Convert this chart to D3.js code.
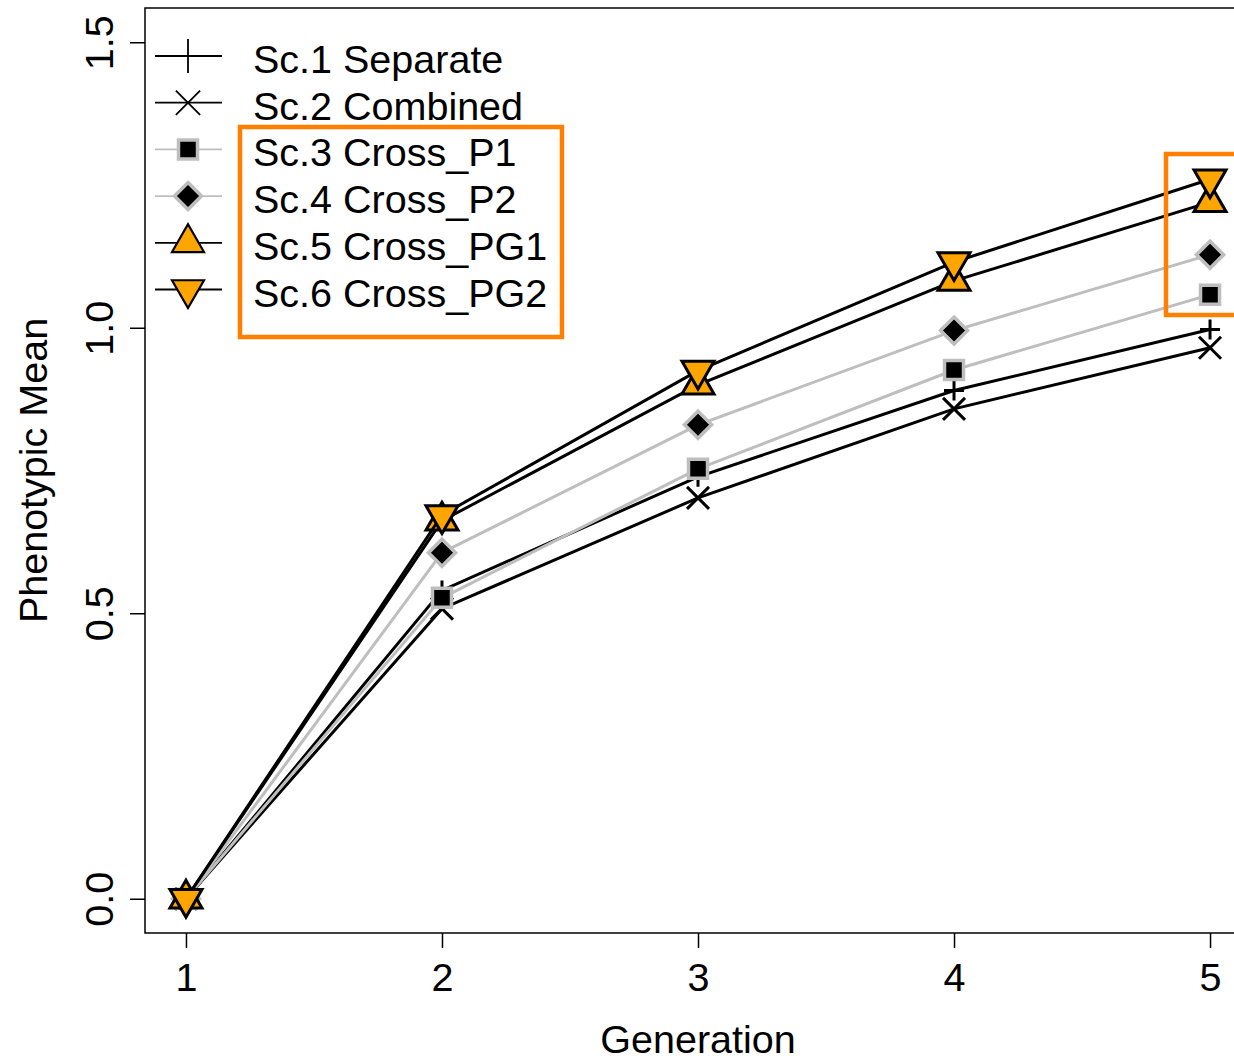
<!DOCTYPE html>
<html>
<head>
<meta charset="utf-8">
<script src="https://cdn.jsdelivr.net/npm/d3@7"></script>
<style>
  body { margin: 0; background: #fff; }
  svg { display: block; font-family: "Liberation Sans", Arial, sans-serif; }
</style>
</head>
<body>
<div id="chart"></div>
<script>
// données
const generations = [1, 2, 3, 4, 5];
const yTicks = [0, 0.5, 1.0, 1.5];
const sc1 = [0, 0.540, 0.739, 0.890, 0.997];
const sc2 = [0, 0.508, 0.702, 0.858, 0.965];
const sc3 = [0, 0.527, 0.753, 0.926, 1.058];
const sc4 = [0, 0.606, 0.830, 0.995, 1.128];
const sc5 = [0, 0.662, 0.900, 1.082, 1.220];
const sc6 = [0, 0.672, 0.925, 1.115, 1.260];
const labels = ["Sc.1 Separate", "Sc.2 Combined", "Sc.3 Cross_P1", "Sc.4 Cross_P2", "Sc.5 Cross_PG1", "Sc.6 Cross_PG2"];

const orange = "#FF7F00";
const fontSize = "39.5px";
const series = [
    { name: labels[0], values: sc1, line: "#000", shape: "plus" },
    { name: labels[1], values: sc2, line: "#000", shape: "cross" },
    { name: labels[2], values: sc3, line: "#BEBEBE", shape: "square" },
    { name: labels[3], values: sc4, line: "#BEBEBE", shape: "diamond" },
    { name: labels[4], values: sc5, line: "#000", shape: "up" },
    { name: labels[5], values: sc6, line: "#000", shape: "down" }
];

const width = 1234, height = 1062;
const plot = { left: 145, right: 1251, top: 8, bottom: 933 };

const svg = d3.select("#chart").append("svg")
    .attr("width", width)
    .attr("height", height);

const xScale = d3.scaleLinear().domain([0.84, 5.16]).range([plot.left, plot.right]);
const yScale = d3.scaleLinear().domain([-0.06, 1.56]).range([plot.bottom, plot.top]);

// formes des symboles (centrées sur 0,0)
function shapePath(shape, k) {
    if (shape === "plus") {
        const r = 10 * k;
        return `M${-r},0H${r}M0,${-r}V${r}`;
    }
    if (shape === "cross") {
        const r = 11 * k;
        return `M${-r},${-r}L${r},${r}M${-r},${r}L${r},${-r}`;
    }
    if (shape === "square") {
        const r = 9.5 * k;
        return `M${-r},${-r}H${r}V${r}H${-r}Z`;
    }
    if (shape === "diamond") {
        const r = 13.5 * k;
        return `M0,${-r}L${r},0L0,${r}L${-r},0Z`;
    }
    const xc = 16 * k, r = 18.5 * k, yc = 9.25 * k;
    if (shape === "up") return `M0,${-r}L${xc},${yc}L${-xc},${yc}Z`;
    return `M0,${r}L${xc},${-yc}L${-xc},${-yc}Z`;
}

function styleMarker(sel, s, legend) {
    if (s.shape === "plus" || s.shape === "cross") {
        sel.attr("fill", "none").attr("stroke", "#000").attr("stroke-width", legend ? 1.8 : 3);
    } else if (s.shape === "square" || s.shape === "diamond") {
        sel.attr("fill", "#000").attr("stroke", "#BEBEBE").attr("stroke-width", 3.5);
    } else {
        sel.attr("fill", "#FFA500").attr("stroke", "#000").attr("stroke-width", legend ? 2.2 : 3)
            .attr("stroke-linejoin", "miter");
    }
}

// cadre
svg.append("rect")
    .attr("x", plot.left)
    .attr("y", plot.top)
    .attr("width", plot.right - plot.left)
    .attr("height", plot.bottom - plot.top)
    .attr("fill", "none")
    .attr("stroke", "#000")
    .attr("stroke-width", 1.5);

// axe des x
const xAxis = svg.append("g")
    .attr("transform", `translate(0,${plot.bottom})`)
    .call(d3.axisBottom(xScale).tickValues(generations).tickSize(15).tickPadding(15).tickFormat(d3.format("d")));
xAxis.select(".domain").remove();
xAxis.selectAll("line").attr("stroke-width", 1.5);
xAxis.selectAll("text")
    .attr("fill", "#000")
    .style("font-size", fontSize)
    .style("font-family", "'Liberation Sans', Arial, sans-serif");

// axe des y
const yAxis = svg.append("g")
    .attr("transform", `translate(${plot.left},0)`)
    .call(d3.axisLeft(yScale).tickValues(yTicks).tickSize(15).tickFormat(d3.format(".1f")));
yAxis.select(".domain").remove();
yAxis.selectAll("line").attr("stroke-width", 1.5);
yAxis.selectAll("text")
    .attr("fill", "#000")
    .attr("x", null).attr("dy", null)
    .attr("text-anchor", "middle")
    .attr("transform", "translate(-32,0) rotate(-90)")
    .style("font-size", fontSize)
    .style("font-family", "'Liberation Sans', Arial, sans-serif");

// titres des axes
svg.append("text")
    .attr("x", (plot.left + plot.right) / 2)
    .attr("y", 1053)
    .attr("text-anchor", "middle")
    .style("font-size", fontSize)
    .text("Generation");

svg.append("text")
    .attr("transform", `translate(47,${(plot.top + plot.bottom) / 2}) rotate(-90)`)
    .attr("text-anchor", "middle")
    .style("font-size", fontSize)
    .text("Phenotypic Mean");

// courbes et points
const line = d3.line()
    .x((d, i) => xScale(generations[i]))
    .y(d => yScale(d));

series.forEach(s => {
    svg.append("path")
        .datum(s.values)
        .attr("d", line)
        .attr("fill", "none")
        .attr("stroke", s.line)
        .attr("stroke-width", 3);

    svg.selectAll(null)
        .data(s.values)
        .enter()
        .append("path")
        .attr("transform", (d, i) => `translate(${xScale(generations[i])},${yScale(d)})`)
        .attr("d", shapePath(s.shape, 1))
        .call(styleMarker, s, false);
});

// légende
const legend = svg.append("g");
const legendY = d3.scaleLinear().domain([0, 1]).range([56, 102.7]);
series.forEach((s, i) => {
    const g = legend.append("g").attr("transform", `translate(0,${legendY(i)})`);
    g.append("line")
        .attr("x1", 155).attr("x2", 222)
        .attr("stroke", s.line)
        .attr("stroke-width", 1.8);
    const k = (s.shape === "plus") ? 1.7 : (s.shape === "cross") ? 1.1 : 1.0;
    g.append("path")
        .attr("transform", "translate(188,0)")
        .attr("d", shapePath(s.shape, k))
        .call(styleMarker, s, true);
    g.append("text")
        .attr("x", 253)
        .attr("y", 17)
        .style("font-size", fontSize)
        .text(s.name);
});

// cadres orange
svg.append("rect")
    .attr("x", 240).attr("y", 127)
    .attr("width", 322).attr("height", 210)
    .attr("fill", "none")
    .attr("stroke", orange)
    .attr("stroke-width", 4.5);

svg.append("rect")
    .attr("x", 1166).attr("y", 154)
    .attr("width", 120).attr("height", 161)
    .attr("fill", "none")
    .attr("stroke", orange)
    .attr("stroke-width", 4.5);
</script>
</body>
</html>
